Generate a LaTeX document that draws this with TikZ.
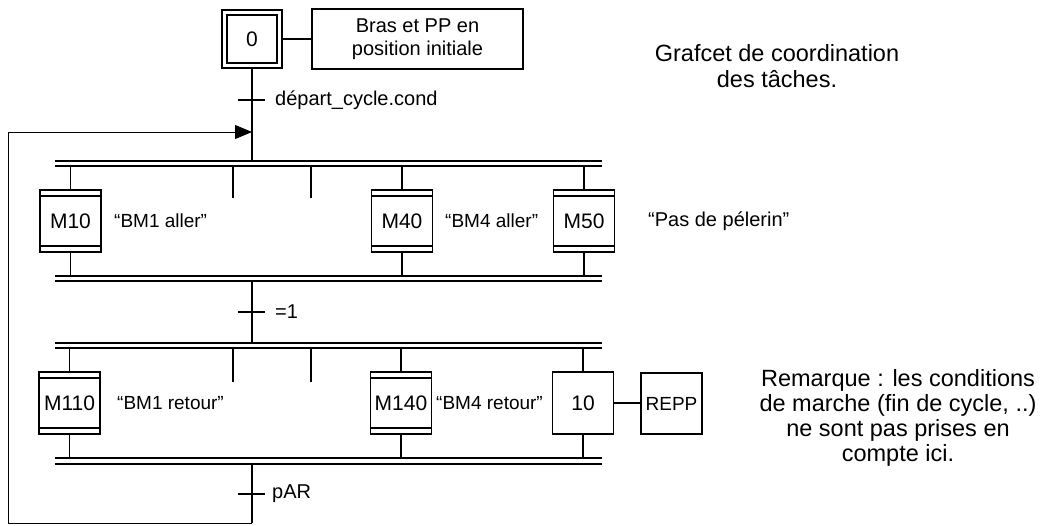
\documentclass[tikz,border=0pt]{standalone}
\usepackage{fontspec}
\setmainfont{Liberation Sans}
\usetikzlibrary{arrows.meta}
\begin{document}
\begin{tikzpicture}[x=1pt,y=-1pt,
  ln/.style={line width=1.2pt},
  lnthin/.style={line width=0.9pt},
  bar/.style={line width=1.4pt},
  stepbox/.style={draw, line width=1.2pt, minimum width=61pt, minimum height=62pt, inner sep=0pt, font=\fontsize{21}{21}\selectfont},
  macro/.style={stepbox, path picture={
      \draw[line width=1.1pt] ([yshift=-6pt]path picture bounding box.north west) -- ([yshift=-6pt]path picture bounding box.north east);
      \draw[line width=1.1pt] ([yshift=6pt]path picture bounding box.south west) -- ([yshift=6pt]path picture bounding box.south east);}},
  lbl/.style={anchor=west, inner sep=0pt, font=\fontsize{19}{19}\selectfont},
  cond/.style={anchor=west, inner sep=0pt, font=\fontsize{20}{20}\selectfont},
  title/.style={align=center, inner sep=0pt, font=\fontsize{23.5}{26}\selectfont},
]
\useasboundingbox (0,0) rectangle (1052,525);

% initial step
\node[draw, line width=1.2pt, minimum width=60pt, minimum height=58pt, inner sep=0pt] (s0o) at (252,39) {};
\node[stepbox, minimum width=50pt, minimum height=48pt] (s0) at (252,39) {0};
\node[draw, line width=1.2pt, minimum width=211pt, minimum height=60pt, align=center, inner sep=0pt, font=\fontsize{20}{23}\selectfont] (a0) at (417.5,39) {Bras et PP en\\position initiale};
\draw[ln] (s0o.east) -- (a0.west);

% title
\node[title] (ttl) at (777,66) {Grafcet de coordination\\des tâches.};

% transition 1
\coordinate (t1) at (252,100);
\coordinate (d1a) at (55,161);
\coordinate (d1ae) at (602,161);
\coordinate (d1b) at (55,166);
\coordinate (d1be) at (602,166);
\draw[ln] (s0o.south) -- (s0o.south |- d1a);
\draw[ln] ([xshift=-14pt]t1) -- ([xshift=13pt]t1);
\node[cond] (c1) at (275,100) {départ\_cycle.cond};

\draw[bar] (d1a) -- (d1ae);
\draw[bar] (d1b) -- (d1be);

% macro steps row 1
\node[macro] (m10) at (70.5,221) {M10};
\node[macro] (m40) at (402,221) {M40};
\node[macro] (m50) at (584,221) {M50};
\node[lbl] (l10) at (114,221) {“BM1 aller”};
\node[lbl] (l40) at (445,221) {“BM4 aller”};
\node[lbl, font=\fontsize{20}{20}\selectfont] (l50) at (648,221) {“Pas de pélerin”};

\coordinate (c1a) at (55,276);
\coordinate (c1ae) at (602,276);
\coordinate (c1b) at (55,281);
\coordinate (c1be) at (602,281);
\draw[bar] (c1a) -- (c1ae);
\draw[bar] (c1b) -- (c1be);

\foreach \m in {m10,m40,m50}{
  \draw[ln] (\m.north) -- (\m.north |- d1b);
  \draw[ln] (\m.south) -- (\m.south |- c1a);
}
\coordinate (st1) at (233,198);
\coordinate (st2) at (311,198);
\draw[ln] (st1) -- (st1 |- d1b);
\draw[ln] (st2) -- (st2 |- d1b);

% transition 2
\coordinate (t2) at (252,312);
\coordinate (d2a) at (55,343);
\coordinate (d2ae) at (602,343);
\coordinate (d2b) at (55,348);
\coordinate (d2be) at (602,348);
\draw[ln] (t2 |- c1b) -- (t2 |- d2a);
\draw[ln] ([xshift=-14pt]t2) -- ([xshift=13pt]t2);
\node[cond] (c2) at (275,312) {=1};
\draw[bar] (d2a) -- (d2ae);
\draw[bar] (d2b) -- (d2be);

% row 2
\node[macro] (m110) at (69.5,403) {M110};
\node[macro] (m140) at (401,403) {M140};
\node[stepbox] (s10) at (583,403) {10};
\node[draw, line width=1.2pt, minimum width=61pt, minimum height=61pt, inner sep=0pt, font=\fontsize{19}{19}\selectfont] (repp) at (671.5,403.5) {REPP};
\draw[ln] (s10.east) -- (repp.west |- s10.east);
\node[lbl] (l110) at (117,403) {“BM1 retour”};
\node[lbl] (l140) at (436,403) {“BM4 retour”};

\coordinate (c2a) at (55,458);
\coordinate (c2ae) at (602,458);
\coordinate (c2b) at (55,464);
\coordinate (c2be) at (602,464);
\draw[bar] (c2a) -- (c2ae);
\draw[bar] (c2b) -- (c2be);

\foreach \m in {m110,m140,s10}{
  \draw[ln] (\m.north) -- (\m.north |- d2b);
  \draw[ln] (\m.south) -- (\m.south |- c2a);
}
\coordinate (st3) at (233,382);
\coordinate (st4) at (311,382);
\draw[ln] (st3) -- (st3 |- d2b);
\draw[ln] (st4) -- (st4 |- d2b);

% transition 3 and loop back
\coordinate (t3) at (252,494);
\coordinate (bot) at (252,523);
\coordinate (botl) at (8,523);
\coordinate (topl) at (8,132);
\coordinate (tip) at (252,132);
\draw[ln] (t3 |- c2b) -- (bot);
\draw[ln] ([xshift=-14pt]t3) -- ([xshift=13pt]t3);
\node[cond] (c3) at (272,494) {pAR};
\draw[lnthin, -{Triangle[length=17pt,width=14pt]}] (bot) -- (botl) -- (topl) -- (tip);

% remark
\node[title, font=\fontsize{23.5}{25}\selectfont] (rem) at (898,418) {Remarque : les conditions\\de marche (fin de cycle, ..)\\ne sont pas prises en\\compte ici.};
\end{tikzpicture}
\end{document}
